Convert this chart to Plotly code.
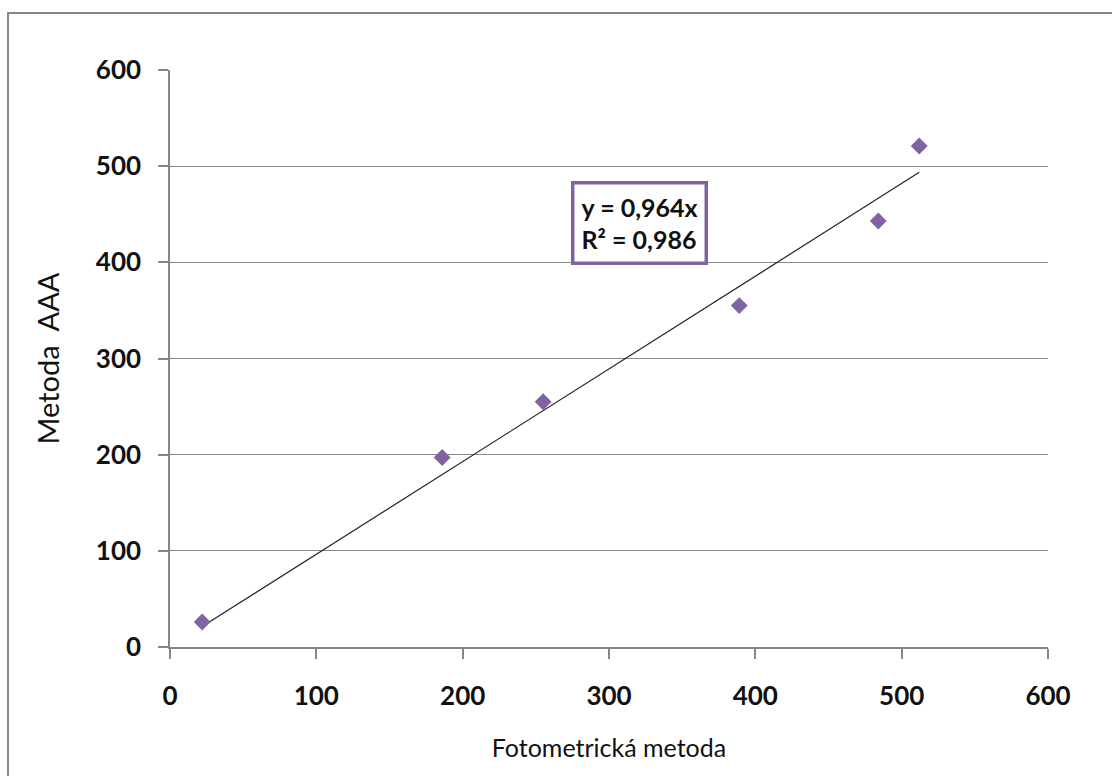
import plotly.graph_objects as go

# Measured concentrations: photometric method vs. AAS method
foto = [22, 186, 255, 389, 484, 512]
aaa = [26, 197, 255, 355, 443, 521]

# Linear fit through the origin
slope = 0.964
r2 = 0.986

tick_vals = [0, 100, 200, 300, 400, 500, 600]

purple = "#8064A2"
axis_grey = "#868686"
font_family = "Lato, 'Open Sans', sans-serif"

fig = go.Figure()

x_fit = [min(foto), max(foto)]
y_fit = [slope * v for v in x_fit]
fig.add_trace(go.Scatter(
    x=x_fit, y=y_fit, mode="lines",
    line=dict(color="#222222", width=1.2),
    hoverinfo="skip", showlegend=False,
))

fig.add_trace(go.Scatter(
    x=foto, y=aaa, mode="markers",
    marker=dict(symbol="diamond", size=13, color=purple, line=dict(width=0)),
    showlegend=False,
))

eq_text = f"y = {slope:.3f}x".replace(".", ",") + "<br>" + f"R² = {r2:.3f}".replace(".", ",")
fig.add_annotation(
    x=321, y=441, xref="x", yref="y",
    text=eq_text, showarrow=False, align="left",
    font=dict(family=font_family, size=25, color="#111111", weight="bold"),
    bordercolor=purple, borderwidth=3.5, borderpad=7, bgcolor="white",
)

# Outer chart frame
W, H = 1112, 776
ml, mr, mt, mb = 170, 64, 70, 129
pw, ph = W - ml - mr, H - mt - mb
fig.add_shape(
    type="rect", xref="paper", yref="paper",
    x0=(8 - ml) / pw, x1=(W + 5 - ml) / pw,
    y0=(H - mb - (H + 5)) / ph, y1=(H - mb - 13) / ph,
    line=dict(color=axis_grey, width=2), fillcolor="rgba(0,0,0,0)", layer="below",
)

fig.update_layout(
    width=W, height=H,
    margin=dict(l=ml, r=mr, t=mt, b=mb, autoexpand=False),
    paper_bgcolor="white", plot_bgcolor="white",
    font=dict(family=font_family, color="#111111"),
    xaxis=dict(
        range=[0, 600], tickvals=tick_vals, showgrid=False, zeroline=False,
        showline=True, linecolor=axis_grey, linewidth=1.5,
        ticks="outside", ticklen=10, tickcolor=axis_grey, tickwidth=1.5,
        tickfont=dict(size=26, weight="bold", color="#111111"),
        ticklabelstandoff=15,
        title=dict(text="Fotometrická metoda", font=dict(size=25, color="#111111"), standoff=30),
    ),
    yaxis=dict(
        range=[0, 600], tickvals=tick_vals, showgrid=True, gridcolor=axis_grey, gridwidth=1,
        zeroline=False, showline=True, linecolor=axis_grey, linewidth=1.5,
        ticks="outside", ticklen=10, tickcolor=axis_grey, tickwidth=1.5,
        tickfont=dict(size=26, weight="bold", color="#111111"),
        ticklabelstandoff=12,
        title=dict(text="Metoda  AAA", font=dict(size=29, color="#111111"), standoff=28),
    ),
)

fig.write_html("out.html")
